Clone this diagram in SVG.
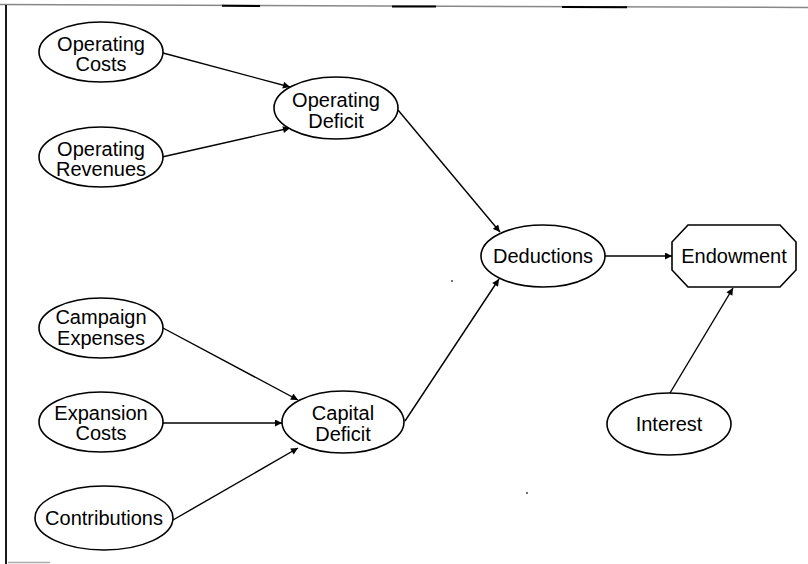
<svg xmlns="http://www.w3.org/2000/svg" width="808" height="564" viewBox="0 0 808 564">
<style>
.n{fill:#fff;stroke:#000;stroke-width:1.6}
.t{font-family:"Liberation Sans",Arial,sans-serif;font-size:20px;fill:#000;text-anchor:middle}
.c{stroke:#000;stroke-width:1.4;fill:none;marker-end:url(#ah)}
</style>
<defs>
<marker id="ah" viewBox="0 0 10 10" refX="10" refY="5" markerWidth="9" markerHeight="7" markerUnits="userSpaceOnUse" orient="auto">
<path d="M0,0 L10,5 L0,10 z" fill="#000"/>
</marker>
</defs>
<rect width="808" height="564" fill="#fff"/>
<g id="frame">
<line x1="0" y1="4.5" x2="808" y2="7.5" stroke="#888" stroke-width="1.5"/>
<line x1="222" y1="5.8" x2="260" y2="6" stroke="#000" stroke-width="2"/>
<line x1="392" y1="6.4" x2="436" y2="6.6" stroke="#000" stroke-width="2"/>
<line x1="562" y1="7" x2="627" y2="7.3" stroke="#000" stroke-width="2"/>
<line x1="6" y1="5" x2="6" y2="564" stroke="#000" stroke-width="1.8"/>
<line x1="8" y1="562.5" x2="50" y2="562.5" stroke="#aaa" stroke-width="1.5"/>
<circle cx="452" cy="281" r="1" fill="#444"/>
<circle cx="527" cy="493" r="1" fill="#444"/>
</g>
<g id="connectors">
<line class="c" x1="163" y1="53" x2="290" y2="87"/>
<line class="c" x1="162" y1="157" x2="290" y2="128"/>
<line class="c" x1="398" y1="110" x2="500" y2="232"/>
<line class="c" x1="405" y1="421" x2="499" y2="279"/>
<line class="c" x1="163" y1="328" x2="298" y2="400"/>
<line class="c" x1="163" y1="423" x2="282" y2="423"/>
<line class="c" x1="173" y1="520" x2="298" y2="448"/>
<line class="c" x1="604" y1="256" x2="672" y2="256"/>
<line class="c" x1="670" y1="393" x2="733" y2="288"/>
</g>
<g id="operating-costs">
<ellipse class="n" cx="101" cy="52" rx="62" ry="30"/>
<text class="t" x="101" y="51">Operating</text>
<text class="t" x="101" y="71">Costs</text>
</g>
<g id="operating-revenues">
<ellipse class="n" cx="101" cy="157" rx="62" ry="30"/>
<text class="t" x="101" y="156">Operating</text>
<text class="t" x="101" y="176">Revenues</text>
</g>
<g id="operating-deficit">
<ellipse class="n" cx="336" cy="108" rx="62" ry="31"/>
<text class="t" x="336" y="107">Operating</text>
<text class="t" x="336" y="128">Deficit</text>
</g>
<g id="deductions">
<ellipse class="n" cx="543" cy="256" rx="62" ry="31"/>
<text class="t" x="543" y="263">Deductions</text>
</g>
<g id="endowment">
<polygon class="n" points="688,225 780,225 796,242 796,270 780,287 688,287 672,270 672,242"/>
<text class="t" x="734" y="263">Endowment</text>
</g>
<g id="campaign-expenses">
<ellipse class="n" cx="101" cy="328" rx="62" ry="30"/>
<text class="t" x="101" y="324">Campaign</text>
<text class="t" x="101" y="345">Expenses</text>
</g>
<g id="expansion-costs">
<ellipse class="n" cx="101" cy="422" rx="62" ry="30"/>
<text class="t" x="101" y="420">Expansion</text>
<text class="t" x="101" y="440">Costs</text>
</g>
<g id="contributions">
<ellipse class="n" cx="104" cy="518" rx="69" ry="32"/>
<text class="t" x="104" y="525">Contributions</text>
</g>
<g id="capital-deficit">
<ellipse class="n" cx="343" cy="422" rx="61" ry="31"/>
<text class="t" x="343" y="420">Capital</text>
<text class="t" x="343" y="441">Deficit</text>
</g>
<g id="interest">
<ellipse class="n" cx="669" cy="424" rx="62" ry="31"/>
<text class="t" x="669" y="431">Interest</text>
</g>
</svg>
